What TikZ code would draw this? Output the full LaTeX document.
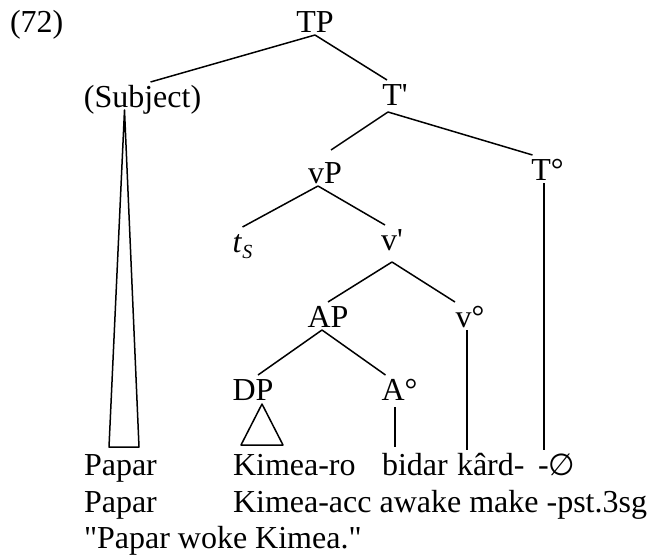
\documentclass[tikz,border=0pt]{standalone}
\usepackage{fontspec}
\setmainfont{Liberation Serif}
\newfontfamily\symfont[Scale=0.95]{DejaVu Sans}
\usepackage{tikz}

\begin{document}
\begin{tikzpicture}[
    x=1pt, y=-1pt,
    font=\fontsize{32}{38}\selectfont,
    cat/.style={inner sep=0pt, outer xsep=0pt, outer ysep=3pt, text height=22pt, text depth=0pt, anchor=base},
    word/.style={cat, anchor=base west},
    branch/.style={line width=1.5pt, line join=round}
]
\useasboundingbox (0,0) rectangle (651,557);

\node[word] (ex) at (10,32) {(72)};
\node[cat] (tp) at (315,32) {TP};
\node[cat] (subj) at (142.5,107) {(Subject)};
\node[cat] (tbar) at (395,105) {T\textquotesingle};
\node[cat] (vp) at (325,183) {vP};
\node[cat] (tdeg) at (547.5,180) {T°};
\node[cat] (ts) at (242.5,252) {\textit{t}\raisebox{-6pt}{\fontsize{20}{20}\selectfont\textit{S}}};
\node[cat] (vbar) at (392,250) {v\textquotesingle};
\node[cat] (ap) at (328,327) {AP};
\node[cat] (vdeg) at (470,327) {v°};
\node[cat] (dp) at (253,400) {DP};
\node[cat] (adeg) at (399.5,400) {A°};
 
\node[word] (papar) at (84,475) {Papar};
\node[word] (kimea) at (233,475) {Kimea-ro};
\node[word] (bidar) at (382,475) {bidar};
\node[word] (kard) at (457,475) {kârd-};
\node[word] (zero) at (538,475) {-{\symfont ∅}};
\node[word] (gloss1) at (84,512) {Papar};
\node[word] (gloss2) at (233,512) {Kimea-acc awake make -pst.3sg};
\node[word] (transl) at (84,548) {\textquotedbl Papar woke Kimea.\textquotedbl};
 
\draw[branch] (tp.south) -- ([xshift=8pt]subj.north);
\draw[branch] (tp.south) -- ([xshift=-8pt]tbar.north);
\draw[branch] ([xshift=-7pt,yshift=-4pt]tbar.south) -- ([xshift=6pt,yshift=8pt]vp.north);
\draw[branch] ([xshift=-7pt,yshift=-4pt]tbar.south) -- ([xshift=-15pt]tdeg.north);
\draw[branch] ([xshift=-3.5pt]tdeg.south) -- ([xshift=-3.5pt]tdeg.south |- zero.north);
 
\draw[branch] ([xshift=-7pt]vp.south) -- (ts.north);
\draw[branch] ([xshift=-7pt]vp.south) -- ([xshift=-7pt]vbar.north);
\draw[branch] ([yshift=-9pt]vbar.south) -- (ap.north);
\draw[branch] ([yshift=-9pt]vbar.south) -- ([xshift=-15pt]vdeg.north);
\draw[branch] ([xshift=-3pt]vdeg.south) -- ([xshift=-3pt]vdeg.south |- kard.north);
 
\draw[branch] ([xshift=-6pt]ap.south) -- ([xshift=5pt]dp.north);
\draw[branch] ([xshift=-6pt]ap.south) -- ([xshift=-14pt]adeg.north);
\draw[branch] ([xshift=-4.5pt,yshift=-4pt]adeg.south) -- ([xshift=-4.5pt,yshift=3pt]adeg.south |- bidar.north);
 
\draw[branch] ([xshift=-18pt]subj.south) -- ([xshift=25pt,yshift=3pt]papar.north west) -- ([xshift=55pt,yshift=3pt]papar.north west) -- cycle;
\draw[branch] ([xshift=9pt,yshift=-1pt]dp.south) -- ([xshift=8pt,yshift=5pt]kimea.north west) -- ([xshift=50pt,yshift=5pt]kimea.north west) -- cycle;
\end{tikzpicture}
\end{document}
